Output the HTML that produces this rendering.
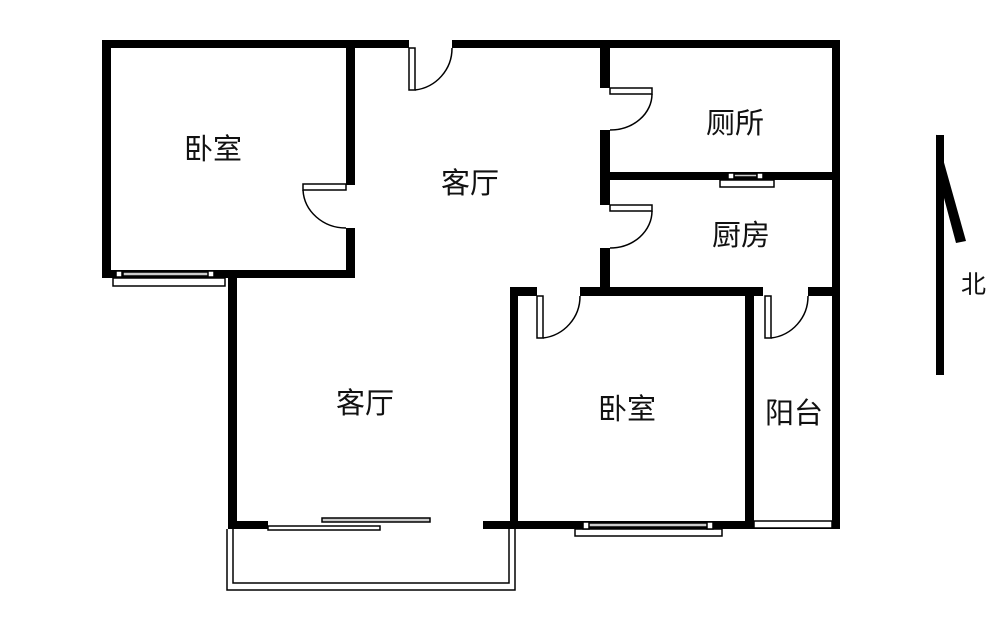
<!DOCTYPE html>
<html><head><meta charset="utf-8"><style>
html,body{margin:0;padding:0;background:#fff;width:1000px;height:620px;overflow:hidden}
text{font-family:"Liberation Sans","Noto Sans CJK SC",sans-serif;font-size:29px;fill:#111}
</style></head><body>
<svg width="1000" height="620" viewBox="0 0 1000 620" xmlns="http://www.w3.org/2000/svg">
<g fill="#000">
<rect x="102" y="40" width="307" height="8"/>
<rect x="452" y="40" width="388" height="8"/>
<rect x="102" y="40" width="9" height="238"/>
<rect x="102" y="270" width="253" height="8"/>
<rect x="346" y="40" width="9" height="145"/>
<rect x="346" y="228" width="9" height="50"/>
<rect x="228" y="270" width="9" height="259"/>
<rect x="228" y="521" width="40" height="8"/>
<rect x="483" y="521" width="357" height="8"/>
<rect x="510" y="287" width="8" height="242"/>
<rect x="510" y="287" width="27" height="9"/>
<rect x="580" y="287" width="183" height="9"/>
<rect x="808" y="287" width="32" height="9"/>
<rect x="745" y="287" width="9" height="242"/>
<rect x="832" y="40" width="8" height="489"/>
<rect x="600" y="40" width="10" height="48"/>
<rect x="600" y="130" width="10" height="75"/>
<rect x="600" y="248" width="10" height="45"/>
<rect x="610" y="172" width="222" height="8"/>
<rect x="936" y="135" width="8" height="240"/>
<polygon points="936,134 966,241 956,243 944,198"/>
</g>
<g fill="#fff" stroke="#000" stroke-width="1.5">
<rect x="409" y="48" width="6" height="42"/>
<rect x="303" y="184" width="43" height="6"/>
<rect x="610" y="88" width="42" height="6"/>
<rect x="610" y="205" width="42" height="6"/>
<rect x="537" y="296" width="6" height="42"/>
<rect x="765" y="296" width="6" height="42"/>
<rect x="113" y="278" width="112" height="8"/>
<rect x="123" y="272" width="92" height="4" fill="#ccc"/>
<rect x="116" y="271" width="6" height="6"/>
<rect x="208" y="271" width="6" height="6"/>
<rect x="720" y="180" width="54" height="7"/>
<rect x="734" y="174" width="23" height="3" fill="#ccc"/>
<rect x="728" y="173" width="6" height="6"/>
<rect x="757" y="173" width="6" height="6"/>
<rect x="575" y="529" width="147" height="7"/>
<rect x="588" y="523" width="120" height="4" fill="#ccc"/>
<rect x="583" y="522" width="6" height="7"/>
<rect x="707" y="522" width="6" height="7"/>
<rect x="754" y="521" width="78" height="7"/>
<rect x="322" y="518" width="108" height="4" fill="#ccc"/>
<rect x="268" y="526" width="112" height="4"/>
</g>
<g fill="none" stroke="#000" stroke-width="1.5">
<path d="M415,90 A42,42 0 0 0 452,48"/>
<path d="M303,190 A43,40 0 0 0 346,228"/>
<path d="M652,94 A42,36 0 0 1 610,130"/>
<path d="M652,211 A42,37 0 0 1 610,248"/>
<path d="M543,338 A42,42 0 0 0 580,296"/>
<path d="M771,338 A42,42 0 0 0 808,296"/>
<path d="M227,529 V590 H515 V529"/>
<path d="M233,529 V583 H509 V529"/>
</g>
<text x="184" y="159">卧室</text>
<text x="441" y="193">客厅</text>
<text x="706" y="133">厕所</text>
<text x="712" y="245">厨房</text>
<text x="336" y="413">客厅</text>
<text x="598" y="419">卧室</text>
<text x="765" y="423">阳台</text>
<text x="961" y="293" style="font-size:25px">北</text>
</svg>
</body></html>
